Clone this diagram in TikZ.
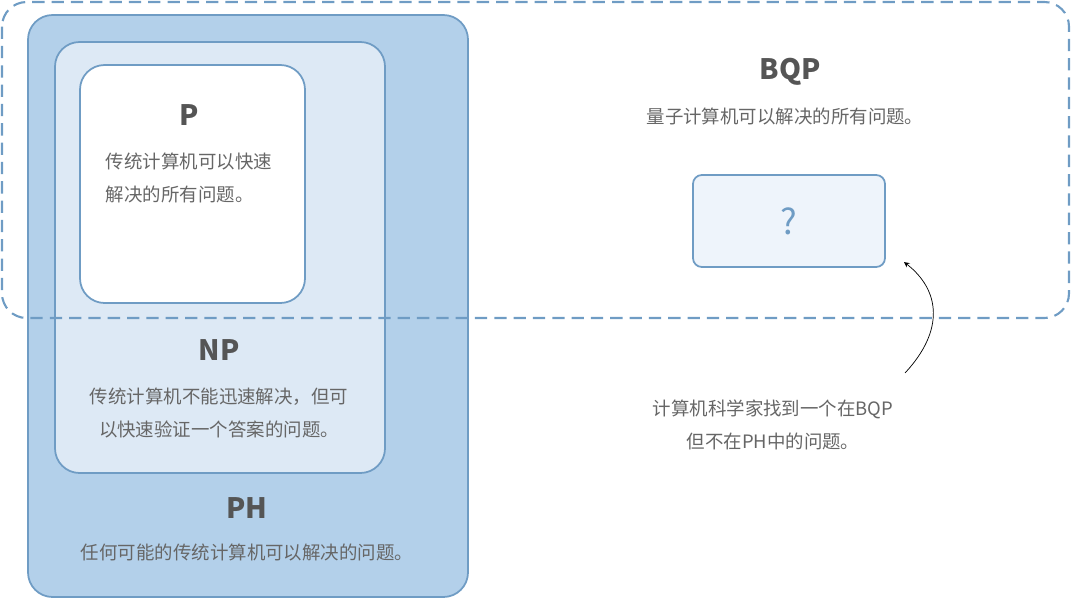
\documentclass[tikz,border=0pt]{standalone}
\usepackage{fontspec}
\setmainfont{Noto Sans CJK SC}
\usepackage{tikz}
\definecolor{edgeblue}{HTML}{6F9CC4}
\definecolor{phfill}{HTML}{B3D0EA}
\definecolor{npfill}{HTML}{DDE9F5}
\definecolor{qfill}{HTML}{EEF4FB}
\definecolor{txtgray}{HTML}{555555}
\tikzset{
  classbox/.style={draw=edgeblue, line width=1pt, rounded corners=14pt},
  title/.style={font=\fontsize{16}{18}\selectfont\bfseries, text=txtgray},
  desc/.style={font=\fontsize{10.5}{19}\selectfont, text=txtgray!90, align=center},
}
\begin{document}
\begin{tikzpicture}[x=0.02cm, y=-0.02cm]
    \useasboundingbox (0,0) rectangle (1071,599);
    \draw[classbox, fill=phfill] (28,15) rectangle (468,597);
    \draw[classbox, fill=npfill] (55,42) rectangle (385,473);
    \draw[classbox, fill=white] (80,65) rectangle (305,303);
    \draw[classbox, dashed, dash pattern=on 7pt off 4pt, line width=1.2pt] (2,2) rectangle (1069,318);
    \node[classbox, fill=qfill, minimum width=3.84cm, minimum height=1.84cm, rounded corners=5pt] (q) at (789,221) {};
    \node[text=edgeblue, font=\fontsize{20}{20}\selectfont] (qmark) at (q) {?};

    \node[title] (p) at (189,115) {P};
    \node[desc, align=left] (pdesc) at (189,178) {传统计算机可以快速\\解决的所有问题。};
    \node[title] (np) at (219,350) {NP};
    \node[desc] (npdesc) at (219,413) {传统计算机不能迅速解决，但可\\以快速验证一个答案的问题。};
    \node[title] (ph) at (247,508) {PH};
    \node[desc] (phdesc) at (247,552) {任何可能的传统计算机可以解决的问题。};
    \node[title] (bqp) at (790,72) {BQP};
    \node[desc] (bqpdesc) at (785,116) {量子计算机可以解决的所有问题。};
    \node[desc] (note) at (773,425) {计算机科学家找到一个在BQP\\但不在PH中的问题。};

    \coordinate (tail) at (905,373);
    \coordinate (head) at (904,262);
    \draw[->, >=stealth, thin] (tail) .. controls (945,330) and (940,290) .. (head);
\end{tikzpicture}
\end{document}
